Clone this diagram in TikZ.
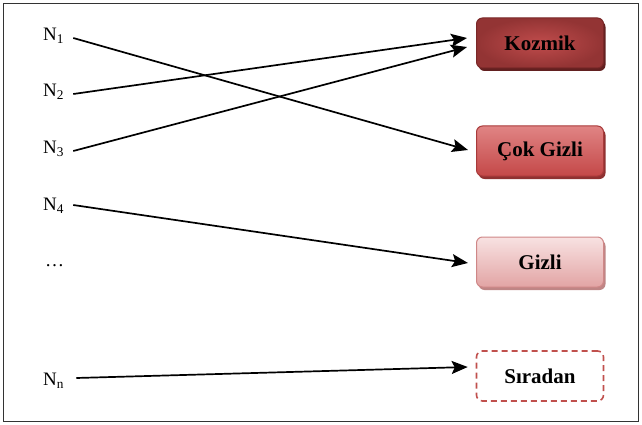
\documentclass[tikz,border=0pt]{standalone}
\usepackage{fontspec}
\setmainfont{Liberation Serif}
\usetikzlibrary{arrows.meta,shadows}
\definecolor{kozA}{HTML}{C04C4C}
\definecolor{kozB}{HTML}{933434}
\definecolor{kozD}{HTML}{7A2828}
\definecolor{cokA}{HTML}{E08484}
\definecolor{cokB}{HTML}{C44848}
\definecolor{cokD}{HTML}{A83A3A}
\definecolor{gizA}{HTML}{F8E2E2}
\definecolor{gizB}{HTML}{E2A4A4}
\definecolor{gizD}{HTML}{CF8787}
\definecolor{sirD}{HTML}{C0504D}
\begin{document}
\begin{tikzpicture}[x=1pt,y=-1pt,
  lbl/.style={font=\fontsize{19}{21}\selectfont, inner sep=0pt, anchor=west},
  box/.style={rounded corners=6pt, minimum width=127pt, minimum height=50pt,
    font=\fontsize{21}{24}\selectfont\bfseries, line width=1pt},
  kozbox/.style={box, draw=kozD, inner color=kozA, outer color=kozB,
    drop shadow={shadow xshift=2pt, shadow yshift=-3pt, fill=kozD!80!black, opacity=1}},
  cokbox/.style={box, draw=cokD, top color=cokA, bottom color=cokB,
    drop shadow={shadow xshift=2pt, shadow yshift=-3pt, fill=cokD!85!black, opacity=1}},
  gizbox/.style={box, draw=gizD, top color=gizA, bottom color=gizB,
    drop shadow={shadow xshift=2pt, shadow yshift=-3pt, fill=gizD!80!gray, opacity=1}},
  sirbox/.style={box, draw=sirD, dashed, dash pattern=on 6pt off 4pt, line width=1.6pt},
  arr/.style={-{Stealth[length=16pt,width=13pt,inset=3pt]}, line width=1.7pt, black}
]
\useasboundingbox (0,0) rectangle (642,425);
\draw[line width=1pt, black!80] (3.5,3.5) rectangle (638,421);

\node[lbl] (n1) at (43,36) {N\textsubscript{1}};
\node[lbl] (n2) at (43,92) {N\textsubscript{2}};
\node[lbl] (n3) at (43,149) {N\textsubscript{3}};
\node[lbl] (n4) at (43,206) {N\textsubscript{4}};
\node[lbl] (dots) at (45,266) {…};
\node[lbl] (nn) at (43,381) {N\textsubscript{n}};

\node[kozbox] (koz) at (540,43) {Kozmik};
\node[cokbox] (cok) at (540,151) {Çok Gizli};
\node[gizbox] (giz) at (540,262) {Gizli};
\node[sirbox] (sir) at (540,376) {Sıradan};

\draw[arr] ([xshift=9pt,yshift=-2pt]n1.east) -- ([xshift=-8pt,yshift=1pt]cok.west);
\draw[arr] ([xshift=9pt,yshift=-2pt]n2.east) -- ([xshift=-9pt,yshift=5pt]koz.west);
\draw[arr] ([xshift=9pt,yshift=-2pt]n3.east) -- ([xshift=-9pt,yshift=-4pt]koz.west);
\draw[arr] ([xshift=9pt,yshift=1pt]n4.east) -- ([xshift=-8pt,yshift=-1pt]giz.west);
\draw[arr] ([xshift=12pt,yshift=3pt]nn.east) -- ([xshift=-8pt,yshift=9pt]sir.west);
\end{tikzpicture}
\end{document}
